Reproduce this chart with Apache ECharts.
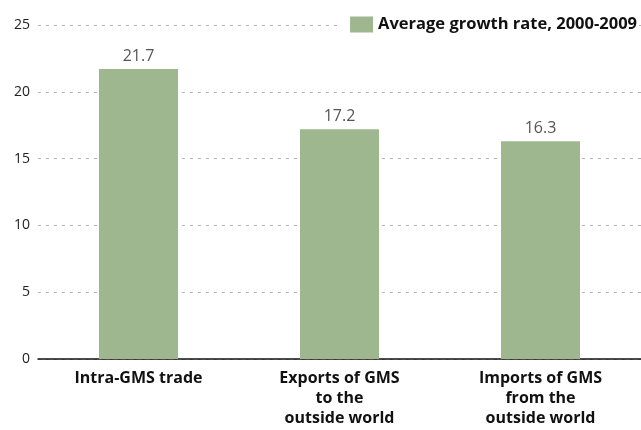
<!DOCTYPE html>
<html>
<head>
<meta charset="utf-8">
<script src="https://cdn.jsdelivr.net/npm/echarts@6/dist/echarts.min.js"></script>
<style>
  html, body { margin: 0; padding: 0; background: #fff; }
  #chart { width: 641px; height: 430px; }
</style>
</head>
<body>
<div id="chart"></div>
<script>
// Categories and values for the growth-rate bar chart
const categories = [
  'Intra-GMS trade',
  'Exports of GMS\nto the\noutside world',
  'Imports of GMS\nfrom the\noutside world'
];
const growthRates = [21.7, 17.2, 16.3];
const seriesName = 'Average growth rate, 2000-2009';
const yTicks = [0, 5, 10, 15, 20, 25];

const FONT = '"Open Sans", "Noto Sans", sans-serif';
const BAR_COLOR = '#9eb78f';

const chart = echarts.init(document.getElementById('chart'));
chart.setOption({
  animation: false,
  textStyle: { fontFamily: FONT },
  grid: { left: 38, right: 0, top: 25, bottom: 71, containLabel: false },
  legend: {
    data: [{ name: seriesName, icon: 'rect' }],
    right: 2,
    top: 14,
    itemWidth: 23,
    itemHeight: 16,
    itemGap: 6,
    backgroundColor: '#fff',
    padding: [2, 2, 2, 9],
    textStyle: { fontFamily: FONT, fontWeight: 'bold', fontSize: 16.5, color: '#111' }
  },
  xAxis: {
    type: 'category',
    data: categories,
    axisTick: { show: false },
    axisLine: { lineStyle: { color: '#111', width: 1.5 } },
    axisLabel: {
      margin: 9,
      fontFamily: FONT,
      fontWeight: 'bold',
      fontSize: 16,
      lineHeight: 20,
      color: '#111',
      interval: 0
    }
  },
  yAxis: {
    type: 'value',
    min: yTicks[0],
    max: yTicks[yTicks.length - 1],
    interval: 5,
    axisLine: { show: false },
    axisTick: { show: false },
    axisLabel: { margin: 8, fontFamily: FONT, fontSize: 14, color: '#222' },
    splitLine: { lineStyle: { color: '#b4b4b4', type: [3, 5], width: 1 } }
  },
  series: [{
    name: seriesName,
    type: 'bar',
    data: growthRates,
    barWidth: 79,
    itemStyle: { color: BAR_COLOR },
    label: {
      show: true,
      position: 'top',
      distance: 5,
      fontFamily: FONT,
      fontSize: 16,
      color: '#555',
      formatter: p => p.value.toFixed(1)
    }
  }]
});
</script>
</body>
</html>
